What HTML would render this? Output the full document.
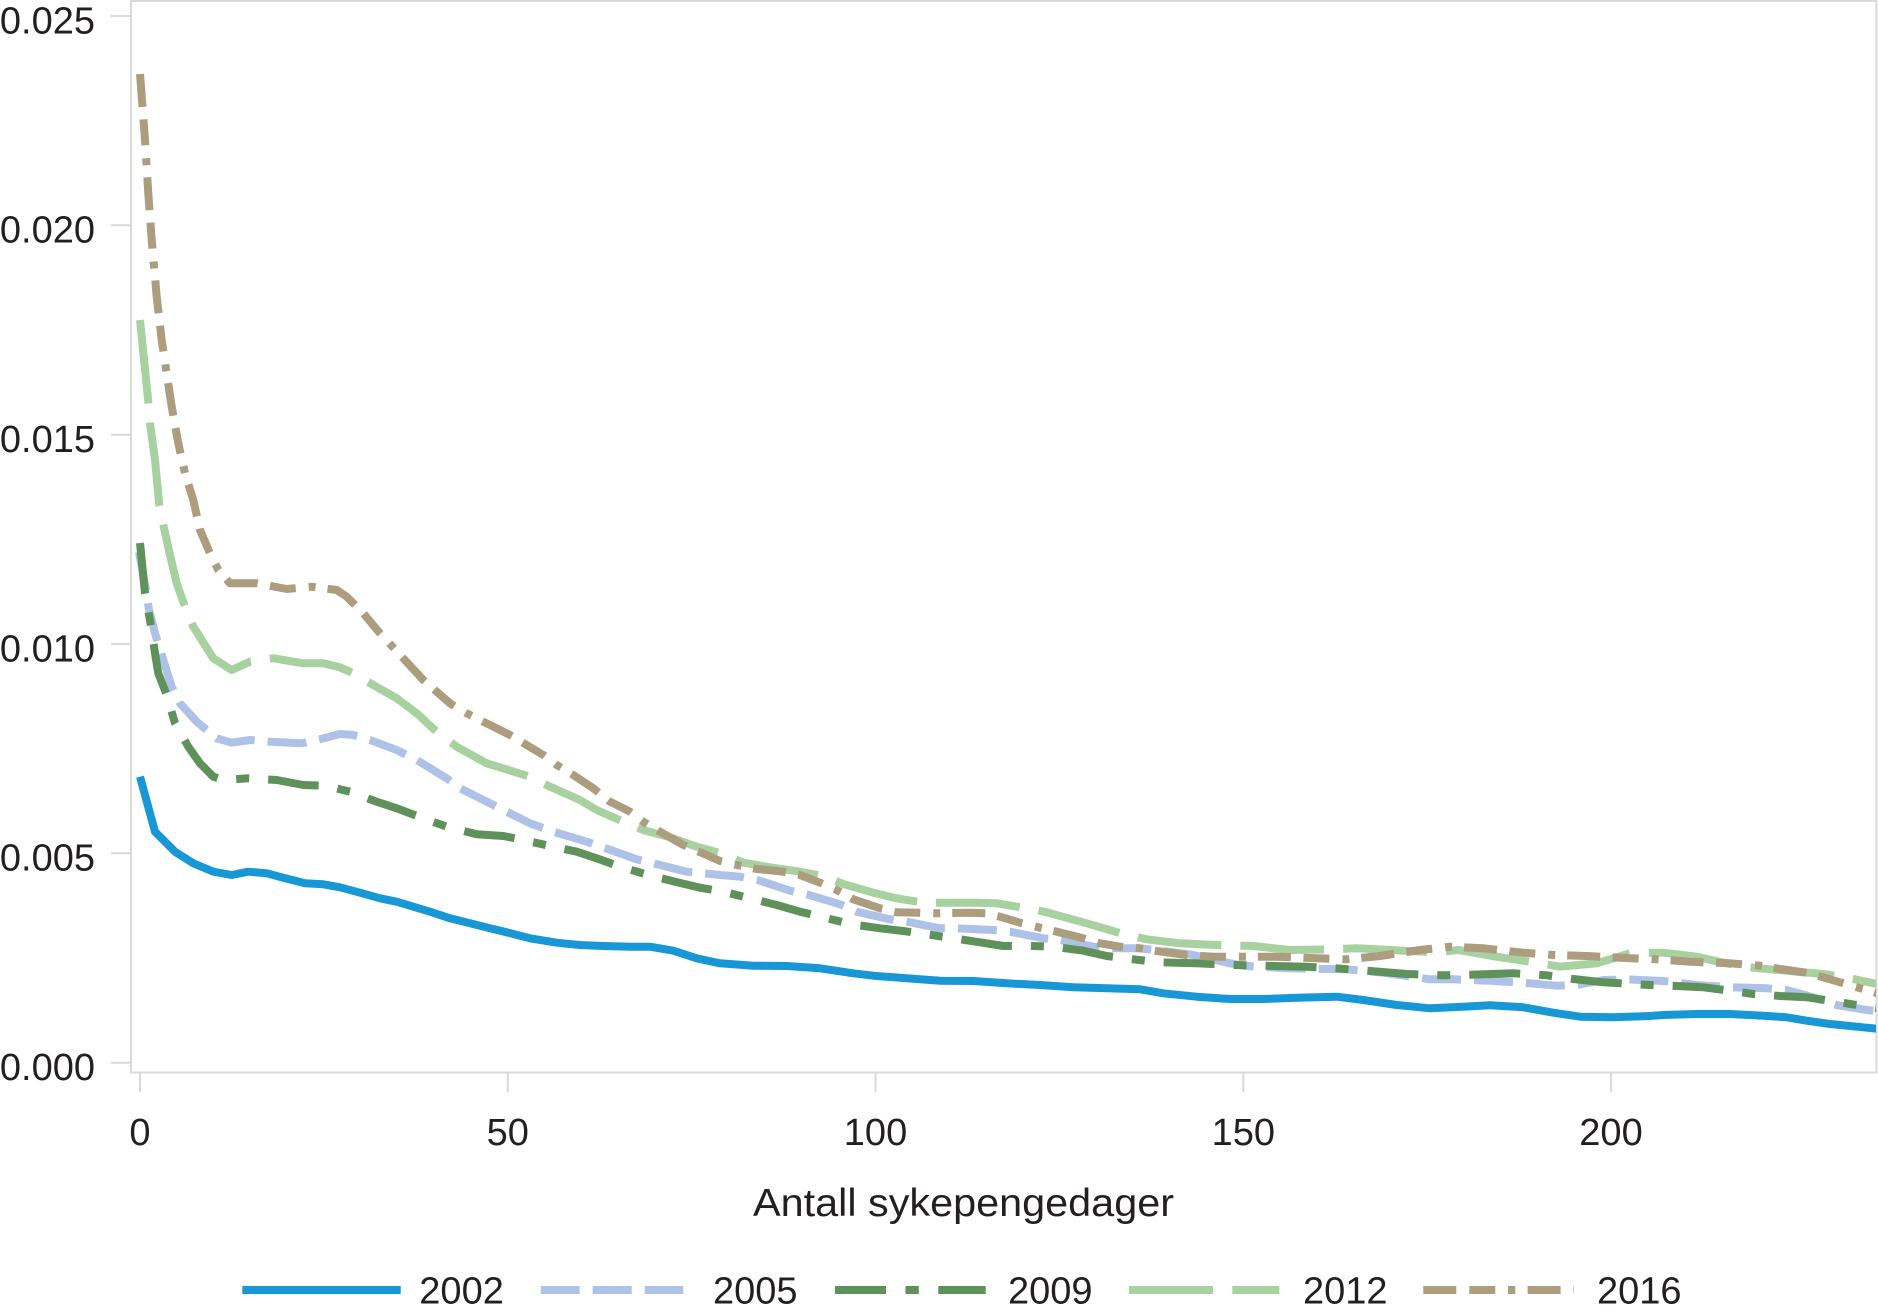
<!DOCTYPE html>
<html>
<head>
<meta charset="utf-8">
<style>
  html, body { margin: 0; padding: 0; background: #ffffff; }
  svg { display: block; }
  text { font-family: "Liberation Sans", Arial, sans-serif; fill: #231f20; }
</style>
</head>
<body>
<svg width="1878" height="1311" viewBox="0 0 1878 1311" xmlns="http://www.w3.org/2000/svg">
  <rect x="0" y="0" width="1878" height="1311" fill="#ffffff"/>
  <defs>
    <clipPath id="plot"><rect x="132" y="2" width="1744" height="1070"/></clipPath>
  </defs>

  <!-- frame -->
  <rect x="131" y="1" width="1745.5" height="1071.5" fill="none" stroke="#d9d9d9" stroke-width="2"/>

  <!-- y ticks -->
  <g stroke="#d9d9d9" stroke-width="2">
    <line x1="111" y1="16" x2="130" y2="16"/>
    <line x1="111" y1="225.3" x2="130" y2="225.3"/>
    <line x1="111" y1="434.7" x2="130" y2="434.7"/>
    <line x1="111" y1="644" x2="130" y2="644"/>
    <line x1="111" y1="853.3" x2="130" y2="853.3"/>
    <line x1="111" y1="1062.7" x2="130" y2="1062.7"/>
  </g>
  <g font-size="38" text-anchor="end">
    <text x="95" y="33.3">0.025</text>
    <text x="95" y="242.6">0.020</text>
    <text x="95" y="452">0.015</text>
    <text x="95" y="661.3">0.010</text>
    <text x="95" y="870.6">0.005</text>
    <text x="95" y="1080">0.000</text>
  </g>

  <!-- x ticks -->
  <g stroke="#d9d9d9" stroke-width="2">
    <line x1="140" y1="1073" x2="140" y2="1092"/>
    <line x1="507.8" y1="1073" x2="507.8" y2="1092"/>
    <line x1="875.5" y1="1073" x2="875.5" y2="1092"/>
    <line x1="1243.3" y1="1073" x2="1243.3" y2="1092"/>
    <line x1="1611" y1="1073" x2="1611" y2="1092"/>
  </g>
  <g font-size="38" text-anchor="middle">
    <text x="140" y="1145">0</text>
    <text x="507.8" y="1145">50</text>
    <text x="875.5" y="1145">100</text>
    <text x="1243.3" y="1145">150</text>
    <text x="1611" y="1145">200</text>
  </g>

  <!-- axis title -->
  <text x="963.5" y="1216" font-size="39" text-anchor="middle" textLength="421" lengthAdjust="spacingAndGlyphs">Antall sykepengedager</text>

  <!-- series -->
  <g clip-path="url(#plot)" fill="none" stroke-width="8" stroke-linejoin="round" stroke-linecap="butt">
    <!-- 2002 -->
    <polyline stroke="#1897d6" points="140,776.7 155,831.7 175,851.7 193.3,863.3 213.3,871.7 231.7,875 248.3,871.7 266.7,873.3 283.3,877.7 305,883.3 323.3,884.3 340,887.3 360,892.7 380,898.3 396.7,901.7 413.3,906.7 430,911.7 450,918.3 470,923.3 490,928.3 506.7,932.3 530,938.3 556.7,942.7 580,945 603.3,946 630,946.7 650,946.7 673.3,950.7 696.7,958.3 720,963.3 753.3,965.7 786.7,966 820,968.3 853.3,973.3 873.3,975.7 906.7,978.3 940,980.7 973.3,981 1006.7,983.3 1040,985 1073.3,987.3 1106.7,988.3 1140,989.3 1163.3,993.3 1196.7,996.7 1230,999 1263.3,999 1296.7,997.7 1336.7,996.7 1363.3,1000 1396.7,1005 1430,1008.3 1463.3,1006.7 1490,1005.3 1523.3,1007.3 1553.3,1012.7 1580,1016.7 1613.3,1017.3 1650,1016 1663.3,1015 1696.7,1014 1730,1014 1763.3,1015.7 1786.7,1017.3 1806.7,1020.7 1830,1024 1856.7,1026.7 1880,1029"/>
    <!-- 2005 -->
    <polyline stroke="#adc2e6" stroke-dasharray="39 13" points="139,552 146,590 149,610 155,633.3 163.3,660 171.7,686.7 180,703.3 196.7,721.7 216.7,738.3 231.7,742.7 250,740 270,741.7 301.7,743.3 320,739.3 340,734 353.3,735 370,740 396.7,750 416.7,760 446.7,778.3 460,788.3 490,803.3 506.7,811.7 530,823.3 553.3,831.7 586.7,841.7 620,853.3 636.7,859.3 653.3,863.3 686.7,871.7 720,875 740,876.7 760,880.7 790,890.7 806.7,894.3 840,904.3 856.7,911.7 890,919.3 906.7,921.7 940,928.3 956.7,928.3 993.3,930 1010,931.7 1043.3,938.3 1060,940 1093.3,946.7 1120,948.3 1140,948.3 1163.3,951 1193.3,955 1230,963.3 1243.3,965.7 1286.7,968.3 1346.7,969.3 1383.3,972.7 1430,979.3 1453.3,979.3 1490,980.7 1530,983.3 1556.7,985.7 1576.7,985 1603.3,980 1630,979.5 1663.3,981 1696.7,985 1730,987.3 1766.7,988.3 1786.7,990 1813.3,997.3 1836.7,1005 1866.7,1010 1880,1011.5"/>
    <!-- 2009 -->
    <polyline stroke="#5f925a" stroke-dasharray="51 19 13 19" points="140,543 145,593.3 150,620 155,653.3 158.3,673.3 166.7,695 175,723.3 188.3,746.7 200,763.3 213.3,776.7 223.3,780 248.3,778.3 276.7,780 303.3,785 325,785.7 350,791.7 376.7,801.7 396.7,808.3 423.3,818.3 446.7,826.7 476.7,834.3 503.3,836 523.3,840 550,846 576.7,851.7 596.7,858.3 620,866.7 648.3,875 675,881.7 700,887.7 723.3,891.7 750,898.3 776.7,905 800,911.7 823.3,917.3 850,924 880,928.3 903.3,931 926.7,934.3 953.3,938.3 980,942.3 1003.3,946 1026.7,945.7 1053.3,946.7 1083.3,950.7 1106.7,956 1133.3,959.3 1158.3,962.3 1196.7,963.3 1233.3,965 1263.3,965.7 1306.7,966.7 1336.7,968.3 1366.7,970.7 1406.7,974 1443.3,975.3 1470,974.7 1513.3,973.3 1546.7,975.3 1573.3,979 1603.3,982.3 1650,985 1676.7,986 1703.3,987.3 1730,990.7 1753.3,994 1780,996 1806.7,997.3 1830,1000.7 1856.7,1005 1880,1008.5"/>
    <!-- 2012 -->
    <polyline stroke="#a7d19e" stroke-dasharray="84 19" points="140,320 148.3,401.7 150,423.3 155,460 159.3,505 163.3,525 170,555 176.7,583.3 185,606.7 193.3,626.7 213.3,658.3 231.7,670 250,661.7 273.3,658.3 303.3,663.3 323.3,663.3 340,667.3 353.3,673.3 373.3,685 396.7,698.3 416.7,713.3 436.7,731.7 456.7,746.7 486.7,763.3 530,776.7 550,786.7 580,800 596.7,810 623.3,821.7 643.3,830 670,837.3 696.7,846.7 723.3,854 743.3,862.7 770,867.3 800,871.7 823.3,876 843.3,884 873.3,892.7 896.7,898.3 923.3,902.7 946.7,902.7 973.3,902.7 996.7,903.3 1026.7,908.3 1046.7,912.3 1086.7,923.3 1126.7,935 1146.7,939.3 1180,943.3 1230,945.7 1250,945.7 1290,950 1333.3,949.3 1356.7,948.3 1403.3,950.7 1436.7,952.3 1458.3,950 1496.7,956.7 1540,963.3 1560,966.7 1596.7,963.3 1630,953.3 1663.3,952.7 1696.7,956.7 1723.3,962.7 1743.3,966.7 1770,969.3 1796.7,971.7 1823.3,974 1846.7,977.7 1880,984.5"/>
    <!-- 2016 -->
    <polyline stroke="#ab9d7d" stroke-dasharray="33 12.5 26 13 7 12" points="140,74 145,140 148.3,193.3 151.7,240 156.7,296.7 161.7,340 166.7,373.3 171.7,406.7 178.3,443.3 185,473.3 193.3,500 200,530 210,553.3 218.3,570 230,583.3 256.7,583.3 286.7,589 311.7,586.7 336.7,590 346.7,596.7 363.3,613.3 380,633.3 403.3,658.3 423.3,680 450,703.3 466.7,713.3 483.3,721.7 510,735 543.3,755 556.7,765 573.3,775 593.3,788.3 610,801.7 630,811.7 643.3,821.7 660,831.7 683.3,845 706.7,855 720,861 736.7,865 756.7,869 783.3,871.7 800,875 820,882.7 836.7,890 853.3,899.3 880,908.3 896.7,912.3 920,912.7 936.7,913.3 970,912.7 986.7,913.3 1000,916.7 1020,922.7 1040,927.7 1056.7,931.7 1083.3,938.3 1100,943.3 1120,946.7 1140,948.3 1156.7,951 1186.7,955 1213.3,956.7 1243.3,956.7 1276.7,956.7 1316.7,958.3 1346.7,959.3 1380,956 1420,950 1450,946.7 1483.3,948.3 1523.3,952.7 1553.3,955 1586.7,956 1630,958.3 1656.7,959.3 1690,961.7 1730,963.3 1760,965.7 1780,969 1806.7,972.7 1830,979.3 1846.7,984.3 1880,994"/>
  </g>

  <!-- legend -->
  <g fill="none" stroke-width="8" stroke-linecap="butt">
    <line x1="242.3" y1="1290" x2="400.7" y2="1290" stroke="#1897d6"/>
    <line x1="540.7" y1="1290" x2="683.3" y2="1290" stroke="#adc2e6" stroke-dasharray="39 13"/>
    <line x1="835" y1="1290" x2="985.7" y2="1290" stroke="#5f925a" stroke-dasharray="51 19.5 13.3 19.5"/>
    <line x1="1129" y1="1290" x2="1279.3" y2="1290" stroke="#a7d19e" stroke-dasharray="84 19.3"/>
    <line x1="1423.3" y1="1290" x2="1574" y2="1290" stroke="#ab9d7d" stroke-dasharray="33 13 26 12.7 7.3 12.3"/>
  </g>
  <g font-size="38">
    <text x="419.3" y="1303.3">2002</text>
    <text x="713" y="1303.3">2005</text>
    <text x="1008" y="1303.3">2009</text>
    <text x="1303" y="1303.3">2012</text>
    <text x="1597" y="1303.3">2016</text>
  </g>
</svg>
</body>
</html>
